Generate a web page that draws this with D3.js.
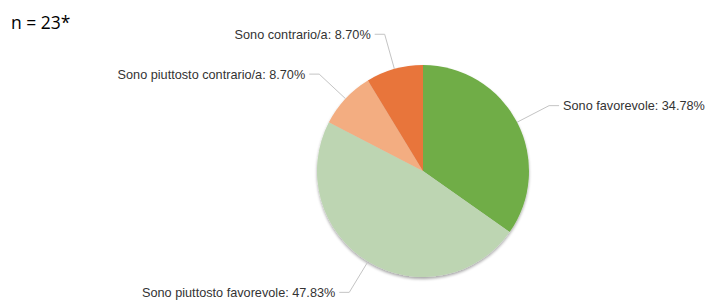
<!DOCTYPE html>
<html><head><meta charset="utf-8">
<script src="https://cdn.jsdelivr.net/npm/d3@7"></script>
<style>body{margin:0;background:#fff}svg{display:block}</style>
</head><body>
<script>
const categories = ["Sono favorevole", "Sono piuttosto favorevole", "Sono piuttosto contrario/a", "Sono contrario/a"];
const values = [34.78, 47.83, 8.70, 8.70];
const colors = ["#70ad47", "#bdd5b2", "#f3ad81", "#e8743b"];
const note = "n = 23*";

const W = 709, H = 300, cx = 423, cy = 171, r = 106, rOut = 142;
const svg = d3.select("body").append("svg").attr("width", W).attr("height", H);

svg.append("text").attr("x", 11).attr("y", 29)
  .attr("font-family", "'Open Sans', 'Liberation Sans', sans-serif").attr("font-size", 17.5)
  .attr("fill", "#000").text(note);

const data = categories.map((c, i) => ({cat: c, val: values[i], color: colors[i]}));
const pie = d3.pie().value(d => d.val).sort(null);
const arcs = pie(data);
const arc = d3.arc().innerRadius(0).outerRadius(r);
const g = svg.append("g").attr("transform", `translate(${cx},${cy})`);

const defs = svg.append("defs");
const f = defs.append("filter").attr("id", "sh").attr("x", "-20%").attr("y", "-20%").attr("width", "140%").attr("height", "140%");
f.append("feGaussianBlur").attr("in", "SourceAlpha").attr("stdDeviation", 1.5);
f.append("feOffset").attr("dx", 0).attr("dy", 1.5).attr("result", "o");
f.append("feComponentTransfer").append("feFuncA").attr("type", "linear").attr("slope", 0.35);
const m = f.append("feMerge"); m.append("feMergeNode"); m.append("feMergeNode").attr("in", "SourceGraphic");

g.append("g").attr("filter", "url(#sh)").selectAll("path").data(arcs).join("path")
  .attr("d", arc).attr("fill", d => d.data.color).attr("stroke", "none");

const fmt = v => v.toFixed(2) + "%";
arcs.forEach(a => {
  const mid = (a.startAngle + a.endAngle) / 2;
  const sx = Math.sin(mid), sy = -Math.cos(mid);
  const p0 = [sx * r, sy * r], p1 = [sx * rOut, sy * rOut];
  const right = sx >= 0;
  const p2 = [p1[0] + (right ? 10 : -10), p1[1]];
  g.append("polyline").attr("points", [p0, p1, p2].map(p => p.join(",")).join(" "))
    .attr("fill", "none").attr("stroke", "#c4c4c4").attr("stroke-width", 1);
  g.append("text").attr("x", p2[0] + (right ? 4 : -4)).attr("y", p2[1])
    .attr("dy", "0.35em").attr("text-anchor", right ? "start" : "end")
    .attr("font-family", "'Liberation Sans', Arial, sans-serif").attr("font-size", 12.7)
    .attr("fill", "#333").text(`${a.data.cat}: ${fmt(a.data.val)}`);
});
</script>
</body></html>
